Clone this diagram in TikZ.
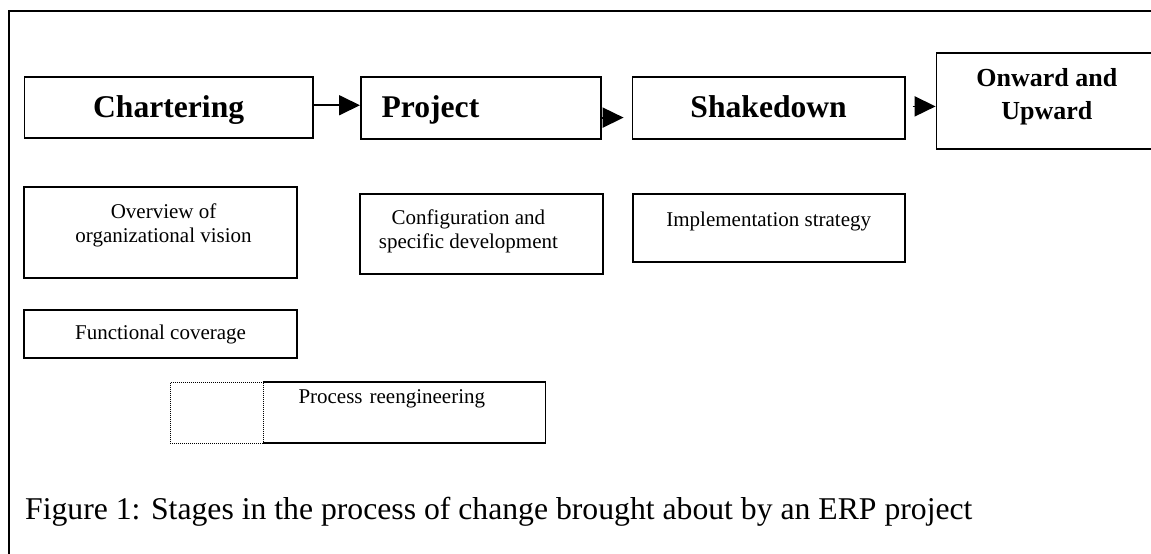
\documentclass[tikz,border=0pt]{standalone}
\usepackage{fontspec}
\setmainfont{Liberation Serif}
\usetikzlibrary{arrows.meta,calc}
\begin{document}
\begin{tikzpicture}[x=1pt,y=-1pt,
  box/.style={draw, line width=1.8pt, inner sep=0pt, anchor=north west, align=center},
  title/.style={font=\fontsize{31.6}{36}\selectfont\bfseries},
  small/.style={font=\fontsize{21}{24}\selectfont},
  arr/.style={line width=1.8pt, -{Triangle[length=21pt,width=20pt]}},
  dotbox/.style={draw, line width=0.9pt, dash pattern=on 1pt off 1pt, inner sep=0pt, anchor=north west},
  frameline/.style={line width=1.8pt}
]
\useasboundingbox (0,0) rectangle (1151,554);
\draw[frameline] (9,580) -- (9,11) -- (1180,11);

% stage boxes
\node[box, title, minimum width=288.5pt, minimum height=60.7pt, text height=21.3pt, text depth=0pt] (C) at (23.5,76) {Chartering};
\node[box, title, minimum width=240pt, minimum height=62pt, inner xsep=20.7pt, text width=198.6pt, align=left, text height=20pt, text depth=0pt] (P) at (360,76) {Project};
\node[box, title, minimum width=272.3pt, minimum height=62pt, text height=20pt, text depth=0pt] (S) at (631.6,76) {Shakedown};
\node[box, font=\fontsize{26}{33}\selectfont\bfseries, minimum width=220.8pt, minimum height=96pt, text height=37.2pt, text depth=0pt] (O) at (935.6,51.7) {Onward and\\Upward};

% arrows
\draw[arr] ($(C.east)+(0,-2)$) -- ($(C.east -| P.west)+(0,-2)$);
\draw[arr, shorten >=8pt] ($(P.east)+(0,9.7)$) -- ($(P.east -| S.west)+(0,9.7)$);
\draw[arr, shorten <=7pt] ($(S.east)+(0,-1.5)$) -- ($(S.east -| O.west)+(0,-1.5)$);

% detail boxes
\node[box, small, minimum width=272.7pt, minimum height=90.7pt, text height=20.7pt, text depth=0pt] (OV) at (23.3,186) {\hspace*{6pt}Overview of\\\hspace*{6pt}organizational vision};
\node[box, small, minimum width=242.4pt, minimum height=80pt, text height=29.4pt, text depth=0pt] (CF) at (359.3,193.3) {Configuration and\hspace*{26pt}\\specific development\hspace*{26pt}};
\node[box, small, minimum width=272.3pt, minimum height=67.4pt, text height=0pt, text depth=2.6pt] (IM) at (631.7,193.3) {Implementation strategy};
\node[box, small, minimum width=272.7pt, minimum height=47.7pt, text height=10.9pt, text depth=0pt] (FC) at (23.3,309) {Functional coverage};

% process reengineering
\node[dotbox, minimum width=93.3pt, minimum height=61pt] (PD) at (170,381.7) {};
\node[anchor=north west, small, inner ysep=0pt, inner xsep=35pt, text width=211.7pt, align=left, minimum width=281.7pt, minimum height=61pt, text height=0pt, text depth=17.8pt] (PR) at (263.3,381.7) {Process reengineering};
\draw[line width=1.8pt] (PR.north west) -- (PR.north east) -- (PR.south east) -- (PR.south west);

% caption
\node[anchor=base west, inner sep=0pt, font=\fontsize{31.7}{36}\selectfont] (cap) at (25,519) {Figure 1: Stages in the process of change brought about by an ERP project};
\end{tikzpicture}
\end{document}
